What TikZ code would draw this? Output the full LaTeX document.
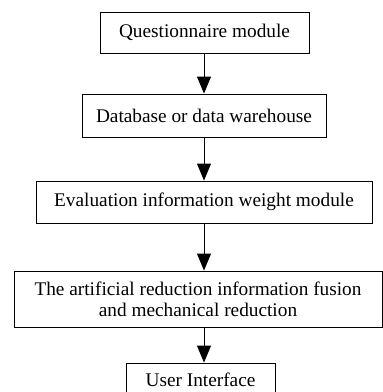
\documentclass[tikz,border=0pt]{standalone}
\usepackage{fontspec}
\setmainfont{Liberation Serif}
\usetikzlibrary{arrows.meta}
\begin{document}
\begin{tikzpicture}[x=1pt,y=-1pt,
  box/.style={draw=black,line width=0.9pt,inner sep=0pt,align=center,
    font=\fontsize{19.3}{21}\selectfont},
  flow/.style={draw=black,line width=0.9pt,-{Triangle[width=14pt,length=17pt]}}]
\useasboundingbox (0,0) rectangle (383,392);
% processing stages, top to bottom
\node[box,minimum width=209pt,minimum height=41pt] (q) at (204.5,32.5) {Questionnaire module};
\node[box,minimum width=244pt,minimum height=43pt] (d) at (204,115.5) {Database or data warehouse};
\node[box,minimum width=336pt,minimum height=42pt] (e) at (204,202) {Evaluation information weight module};
\node[box,minimum width=368pt,minimum height=56pt] (f) at (198,299) {The artificial reduction information fusion\\and mechanical reduction};
\node[box,minimum width=149pt,minimum height=33pt] (u) at (200.5,379.5) {User Interface};
% vertical spine shared by all arrows
\coordinate (spine) at (204,0);
\draw[flow] (q.south -| spine) -- (d.north -| spine);
\draw[flow] (d.south -| spine) -- (e.north -| spine);
\draw[flow] (e.south -| spine) -- (f.north -| spine);
\draw[flow] (f.south -| spine) -- (u.north -| spine);
\end{tikzpicture}
\end{document}
